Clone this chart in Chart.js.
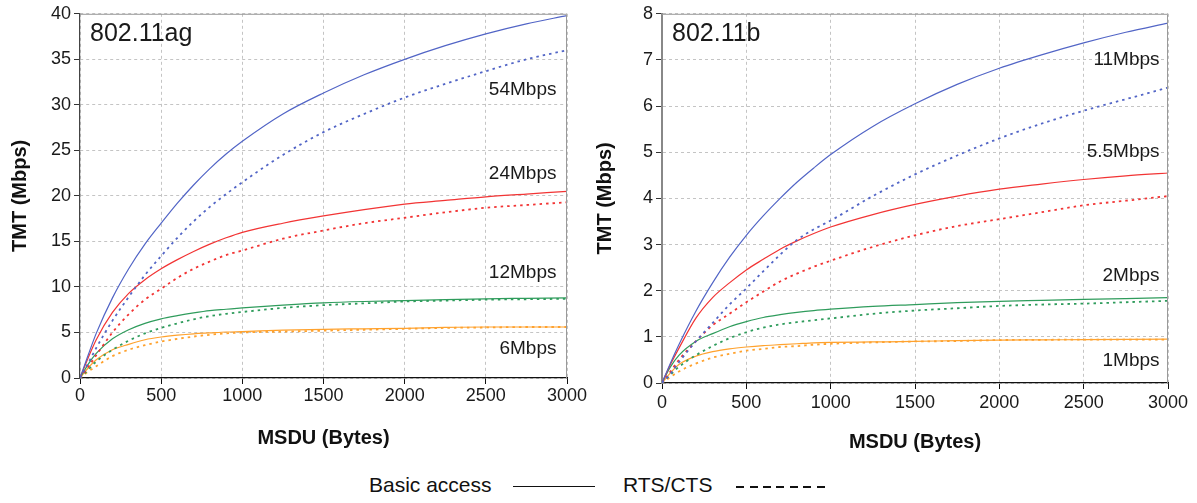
<!DOCTYPE html>
<html>
<head>
<meta charset="utf-8">
<script src="https://cdn.jsdelivr.net/npm/chart.js@4/dist/chart.umd.min.js"></script>
<style>
  html, body { margin: 0; padding: 0; background: #fff; }
  body { width: 1197px; height: 503px; position: relative; overflow: hidden;
         font-family: "Liberation Sans", Arial, sans-serif; }
  .panel { position: absolute; top: 0; }
  #legend { position: absolute; top: 472px; left: 0; width: 1197px; height: 28px;
            font-size: 21px; color: #111; }
  #legend span { position: absolute; top: 0; line-height: 26px; }
  #legend i { position: absolute; height: 0; }
</style>
</head>
<body>
<div class="panel" style="left:0;width:590px;height:462px"><canvas id="ag" width="590" height="462"></canvas></div>
<div class="panel" style="left:590px;width:607px;height:462px"><canvas id="b" width="607" height="462"></canvas></div>
<div id="legend">
  <span style="left:369px">Basic access</span>
  <i style="left:513px;top:14px;width:82px;border-top:1.5px solid #111"></i>
  <span style="left:623px">RTS/CTS</span>
  <i style="left:736px;top:14px;width:94px;height:1.5px;background:repeating-linear-gradient(90deg,#111 0 8px,transparent 8px 13.5px)"></i>
</div>
<script>
// MSDU sizes (bytes) at which throughput is sampled
const msdu = [0, 50, 100, 200, 300, 400, 500, 600, 700, 800, 900, 1000, 1250, 1500, 1750, 2000, 2250, 2500, 2750, 3000];

// 802.11a/g throughput (Mbps)
const ag54Basic = [0, 2.5, 4.9, 8.8, 12, 14.7, 17, 19.2, 21.2, 23, 24.6, 26, 29, 31.3, 33.3, 35, 36.5, 37.8, 38.9, 39.8];
const ag54Rts   = [0, 1.6, 3.3, 6.3, 8.9, 11.3, 13.4, 15.4, 17.2, 18.8, 20.2, 21.5, 24.5, 27, 29, 30.8, 32.3, 33.7, 35, 36];
const ag24Basic = [0, 2.2, 4.2, 7.2, 9.3, 10.8, 12, 13, 13.9, 14.7, 15.4, 16, 17, 17.8, 18.5, 19.1, 19.5, 19.9, 20.2, 20.5];
const ag24Rts   = [0, 1.2, 2.5, 5, 7, 8.6, 9.8, 11, 12, 12.8, 13.5, 14, 15.3, 16.2, 17, 17.6, 18.2, 18.7, 19, 19.3];
const ag12Basic = [0, 1.5, 2.7, 4.3, 5.3, 6, 6.5, 6.85, 7.15, 7.4, 7.55, 7.7, 8, 8.25, 8.4, 8.5, 8.6, 8.7, 8.75, 8.8];
const ag12Rts   = [0, 0.9, 1.8, 3.1, 4.1, 4.9, 5.5, 6.0, 6.45, 6.8, 7.05, 7.25, 7.7, 8, 8.2, 8.4, 8.5, 8.6, 8.65, 8.7];
const ag6Basic  = [0, 1.1, 2, 3.1, 3.7, 4.2, 4.5, 4.7, 4.85, 4.95, 5.05, 5.1, 5.25, 5.35, 5.4, 5.45, 5.55, 5.6, 5.6, 5.6];
const ag6Rts    = [0, 0.7, 1.3, 2.4, 3.1, 3.6, 4, 4.3, 4.55, 4.75, 4.9, 5, 5.1, 5.2, 5.3, 5.4, 5.5, 5.55, 5.6, 5.6];

// 802.11b throughput (Mbps)
const b11Basic  = [0, 0.43, 0.83, 1.55, 2.17, 2.72, 3.2, 3.62, 4.0, 4.35, 4.66, 4.95, 5.56, 6.05, 6.47, 6.82, 7.11, 7.37, 7.6, 7.8];
const b11Rts    = [0, 0.2, 0.45, 0.9, 1.3, 1.7, 2.05, 2.42, 2.78, 3.1, 3.33, 3.52, 4.05, 4.52, 4.93, 5.3, 5.62, 5.9, 6.15, 6.4];
const b55Basic  = [0, 0.4, 0.75, 1.4, 1.85, 2.17, 2.45, 2.68, 2.9, 3.08, 3.24, 3.38, 3.65, 3.87, 4.05, 4.2, 4.31, 4.41, 4.49, 4.55];
const b55Rts    = [0, 0.25, 0.5, 0.9, 1.25, 1.5, 1.75, 1.98, 2.2, 2.37, 2.52, 2.65, 2.95, 3.2, 3.4, 3.55, 3.7, 3.85, 3.95, 4.05];
const b2Basic   = [0, 0.35, 0.6, 0.9, 1.07, 1.22, 1.33, 1.42, 1.48, 1.53, 1.57, 1.6, 1.66, 1.7, 1.74, 1.77, 1.79, 1.81, 1.83, 1.85];
const b2Rts     = [0, 0.18, 0.35, 0.6, 0.8, 0.97, 1.1, 1.2, 1.27, 1.32, 1.36, 1.4, 1.5, 1.57, 1.62, 1.67, 1.7, 1.72, 1.75, 1.78];
const b1Basic   = [0, 0.22, 0.4, 0.58, 0.68, 0.74, 0.78, 0.81, 0.83, 0.85, 0.87, 0.88, 0.89, 0.9, 0.92, 0.93, 0.935, 0.94, 0.945, 0.95];
const b1Rts     = [0, 0.13, 0.25, 0.42, 0.55, 0.63, 0.7, 0.74, 0.78, 0.8, 0.83, 0.85, 0.88, 0.9, 0.91, 0.93, 0.935, 0.94, 0.94, 0.94];

// Rate labels placed beside the curves: [text, msdu, Mbps]
const agRateLabels = [["54Mbps", 2935, 31.7], ["24Mbps", 2935, 22.4], ["12Mbps", 2935, 11.6], ["6Mbps", 2935, 3.2]];
const bRateLabels  = [["11Mbps", 2950, 7.0], ["5.5Mbps", 2950, 5.0], ["2Mbps", 2950, 2.32], ["1Mbps", 2950, 0.49]];

const xTicks = [0, 500, 1000, 1500, 2000, 2500, 3000];

const BLUE = '#5265c6', RED = '#f23434', GREEN = '#2f9c5c', ORANGE = '#ffa22e';
const FONT = '"Liberation Sans", Arial, sans-serif';

function series(ys, color, dashed) {
  return {
    data: msdu.map((x, i) => ({ x: x, y: ys[i] })),
    borderColor: color,
    borderWidth: dashed ? 1.8 : 1.2,
    borderDash: dashed ? [2.5, 4] : [],
    pointRadius: 0,
    cubicInterpolationMode: 'monotone',
    fill: false
  };
}

// Panel caption, rate labels and plot frame
const decorations = {
  id: 'decorations',
  afterDatasetsDraw(chart, args, opts) {
    const { ctx, chartArea: a, scales } = chart;
    ctx.save();
    ctx.strokeStyle = '#9a9a9a';
    ctx.lineWidth = 1;
    ctx.beginPath();
    ctx.moveTo(a.left, a.top + 0.5);
    ctx.lineTo(a.right - 0.5, a.top + 0.5);
    ctx.lineTo(a.right - 0.5, a.bottom);
    ctx.stroke();
    ctx.fillStyle = '#1a1a1a';
    ctx.font = '25px ' + FONT;
    ctx.textAlign = 'left';
    ctx.textBaseline = 'middle';
    ctx.fillText(opts.caption, a.left + 10, a.top + 20);
    ctx.font = '19px ' + FONT;
    ctx.textAlign = 'right';
    opts.labels.forEach(([t, x, y]) => {
      ctx.fillText(t, scales.x.getPixelForValue(x), scales.y.getPixelForValue(y));
    });
    ctx.restore();
  }
};

function makeChart(id, cfg) {
  return new Chart(document.getElementById(id), {
    type: 'line',
    data: { datasets: cfg.datasets },
    options: {
      responsive: false,
      animation: false,
      devicePixelRatio: 1,
      layout: { padding: { top: cfg.top, right: cfg.right, left: 0, bottom: 0 } },
      plugins: {
        legend: { display: false },
        tooltip: { enabled: false },
        decorations: { caption: cfg.caption, labels: cfg.labels }
      },
      scales: {
        x: {
          type: 'linear', min: 0, max: 3000,
          afterBuildTicks: s => { s.ticks = xTicks.map(v => ({ value: v })); },
          afterFit: s => { s.height = cfg.xHeight; },
          grid: { color: '#c4c4c4', tickLength: 6, tickColor: '#111', tickBorderDash: [], tickWidth: 1 },
          border: { display: true, color: '#111', width: 1.2, dash: [3, 3] },
          ticks: { color: '#1a1a1a', font: { family: FONT, size: 18 }, padding: cfg.xTickPad, maxRotation: 0,
                   callback: v => String(v) },
          title: { display: true, text: 'MSDU (Bytes)', color: '#111',
                   font: { family: FONT, size: 20, weight: 'bold' }, padding: { top: 0, bottom: cfg.xTitlePad } }
        },
        y: {
          min: 0, max: cfg.yMax,
          afterFit: s => { s.width = cfg.yWidth; },
          grid: { color: '#c4c4c4', tickLength: 6, tickColor: '#333', tickBorderDash: [], tickWidth: 1 },
          border: { display: true, color: cfg.yAxisColor, width: cfg.yAxisWidth, dash: [3, 3] },
          ticks: { stepSize: cfg.yStep, color: '#1a1a1a', font: { family: FONT, size: 18 }, padding: 3,
                   callback: v => String(v) },
          title: { display: true, text: 'TMT (Mbps)', color: '#111',
                   font: { family: FONT, size: 20, weight: 'bold' }, padding: { top: cfg.yTitlePad, bottom: 0 } }
        }
      }
    },
    plugins: [decorations]
  });
}

makeChart('ag', {
  caption: '802.11ag', labels: agRateLabels,
  yMax: 40, yStep: 5, top: 12, right: 23, yWidth: 80, xHeight: 84,
  xTickPad: 1, xTitlePad: 12, yTitlePad: 8, yAxisColor: '#444', yAxisWidth: 1.2,
  datasets: [
    series(ag54Basic, BLUE, false), series(ag54Rts, BLUE, true),
    series(ag24Basic, RED, false), series(ag24Rts, RED, true),
    series(ag12Basic, GREEN, false), series(ag12Rts, GREEN, true),
    series(ag6Basic, ORANGE, false), series(ag6Rts, ORANGE, true)
  ]
});

makeChart('b', {
  caption: '802.11b', labels: bRateLabels,
  yMax: 8, yStep: 1, top: 10, right: 29, yWidth: 72, xHeight: 79,
  xTickPad: 3, xTitlePad: 8, yTitlePad: 3, yAxisColor: '#888', yAxisWidth: 2,
  datasets: [
    series(b11Basic, BLUE, false), series(b11Rts, BLUE, true),
    series(b55Basic, RED, false), series(b55Rts, RED, true),
    series(b2Basic, GREEN, false), series(b2Rts, GREEN, true),
    series(b1Basic, ORANGE, false), series(b1Rts, ORANGE, true)
  ]
});
</script>
</body>
</html>
